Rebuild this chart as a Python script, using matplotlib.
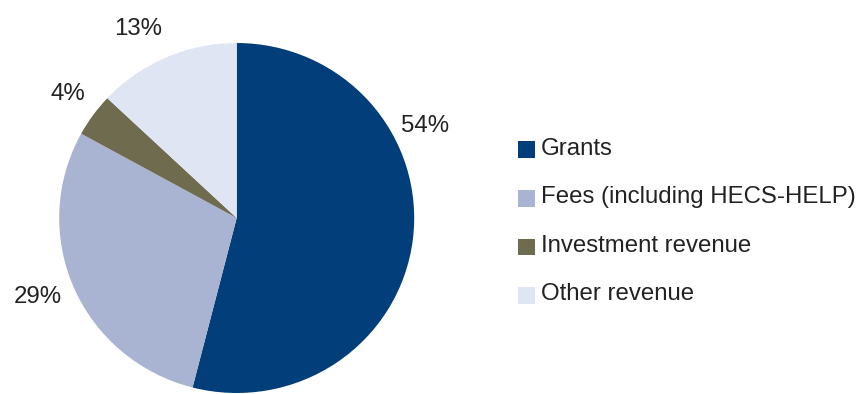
import matplotlib
matplotlib.use("Agg")
import matplotlib.pyplot as plt
from matplotlib.patches import Rectangle

plt.rcParams["font.family"] = ["Liberation Sans", "DejaVu Sans"]

categories = ["Grants", "Fees (including HECS-HELP)", "Investment revenue", "Other revenue"]
shares = [54, 29, 4, 13]
colors = ["#023F7A", "#A9B3D2", "#6E6B4F", "#DFE5F3"]

# label anchor points (axes data units, baseline)
label_xy = [(1.061, 0.493), (-1.122, -0.487), (-0.950, 0.674), (-0.556, 1.046)]

W, H = 866, 394
fig = plt.figure(figsize=(W / 100, H / 100), dpi=100)

# pie placement in pixels
cx, cy, rx, ry = 236.7, 218.0, 177.5, 175.0
ax = fig.add_axes([(cx - rx) / W, (H - cy - ry) / H, 2 * rx / W, 2 * ry / H])
ax.pie(shares, colors=colors, startangle=90, counterclock=False,
       radius=1.0, wedgeprops=dict(linewidth=0))
ax.set_xlim(-1, 1)
ax.set_ylim(-1, 1)
ax.set_aspect("auto")
ax.axis("off")

text_color = "#222222"
fs = 17.3
for v, (x, y) in zip(shares, label_xy):
    ax.text(x, y, f"{v}%", ha="center", va="baseline", fontsize=fs,
            color=text_color, clip_on=False)

# legend drawn in figure pixel space
def fx(px):
    return px / W

def fy(py):
    return (H - py) / H

base0, step = 155.0, 48.5
for i, (name, c) in enumerate(zip(categories, colors)):
    b = base0 + i * step
    fig.add_artist(Rectangle((fx(518), fy(b + 3)), 17 / W, 16.5 / H,
                             transform=fig.transFigure, facecolor=c,
                             edgecolor="none"))
    fig.text(fx(541), fy(b), name, ha="left", va="baseline", fontsize=fs,
             color=text_color)

fig.savefig("out.png", dpi=100)
